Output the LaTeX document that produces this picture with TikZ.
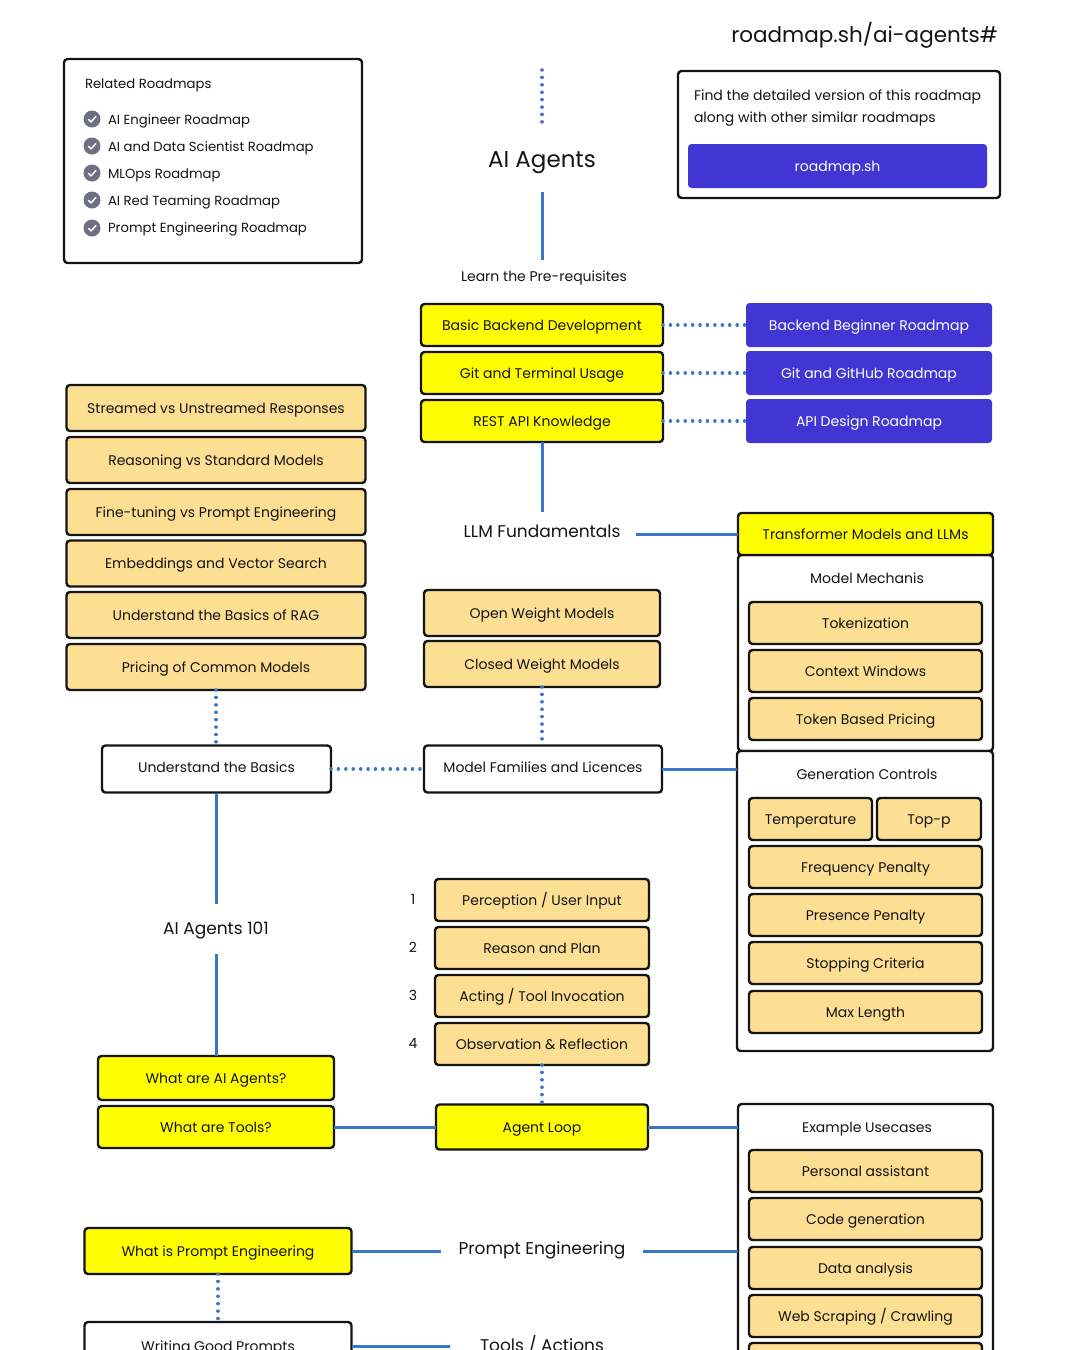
\documentclass[tikz,border=0pt]{standalone}
\usepackage{fontspec}
\setmainfont{Poppins}
\definecolor{linkblue}{HTML}{3A76C8}
\definecolor{btnblue}{HTML}{4136D3}
\definecolor{peach}{HTML}{FDDF93}
\definecolor{markyellow}{HTML}{FFFF00}
\definecolor{checkgray}{HTML}{6D7080}
\definecolor{inkblack}{HTML}{141414}
\tikzset{
    boxbase/.style={draw=inkblack, line width=2.4, rounded corners=3.5, outer sep=0, inner sep=0, text=inkblack, text height=10, text depth=0, font=\fontsize{14}{17}\selectfont},
    yellowbox/.style={boxbase, fill=markyellow},
    peachbox/.style={boxbase, fill=peach},
    whitebox/.style={boxbase, fill=white},
    bluebox/.style={rounded corners=3.5, fill=btnblue, text=white, outer sep=0, inner sep=0, text height=10, text depth=0, font=\fontsize{14}{17}\selectfont},
    panel/.style={boxbase, fill=white},
    plain/.style={inner sep=0, outer sep=0, text=inkblack, text height=10, text depth=0, font=\fontsize{14}{17}\selectfont},
    listtext/.style={plain, text height=11.5, font=\fontsize{13.2}{16}\selectfont},
    heading/.style={plain, text height=12, font=\fontsize{17}{21}\selectfont},
    bigheading/.style={plain, text height=14, font=\fontsize{23}{28}\selectfont},
    checkicon/.style={circle, fill=checkgray, minimum size=17, inner sep=0, outer sep=0,
        path picture={\draw[white, line width=1.5, line cap=round, line join=round]
            ([shift={(-3.6,0.3)}]path picture bounding box.center) -- ++(2.6,2.6) -- ++(4.8,-5.2);}},
    bluelink/.style={draw=linkblue, line width=3},
    dotlink/.style={draw=linkblue, line width=3.5, line cap=round, dash pattern=on 0.01 off 7.4},
}
\begin{document}
\begin{tikzpicture}[x=1pt, y=-1pt]
        \useasboundingbox (0, 0) rectangle (1080, 1350);
        \clip (0, 0) rectangle (1080, 1350);

        \node[bigheading, anchor=east, text height=15, font=\fontsize{21.5}{26}\selectfont] (sitetitle) at (998, 35) {roadmap.sh/ai-agents\#};

        \node[panel, minimum width=298, minimum height=204] (related) at (213, 161) {};
        \node[listtext, anchor=west, text height=10] (relatedtitle) at (85, 83) {Related Roadmaps};
        \node[checkicon] (check1) at (92, 119) {};
        \node[checkicon] (check2) at (92, 146) {};
        \node[checkicon] (check3) at (92, 173) {};
        \node[checkicon] (check4) at (92, 200) {};
        \node[checkicon] (check5) at (92, 228) {};
        \node[listtext, anchor=west] (rel1) at (108, 119) {AI Engineer Roadmap};
        \node[listtext, anchor=west] (rel2) at (108, 146) {AI and Data Scientist Roadmap};
        \node[listtext, anchor=west] (rel3) at (108, 173) {MLOps Roadmap};
        \node[listtext, anchor=west] (rel4) at (108, 200) {AI Red Teaming Roadmap};
        \node[listtext, anchor=west] (rel5) at (108, 227) {Prompt Engineering Roadmap};

        \node[panel, minimum width=322, minimum height=127] (findbox) at (839, 134.5) {};
        \node[plain, anchor=west] (find1) at (694, 95) {Find the detailed version of this roadmap};
        \node[plain, anchor=west] (find2) at (694, 117) {along with other similar roadmaps};
        \node[bluebox, minimum width=299, minimum height=44] (sitebtn) at (837.5, 166) {roadmap.sh};

        \coordinate (aitop) at (542, 70);
        \node[bigheading, minimum width=120, minimum height=64] (aititle) at (542, 160) {AI Agents};
        \node[plain, minimum height=32] (prereq) at (544, 276) {Learn the Pre-requisites};

        \node[yellowbox, minimum width=242, minimum height=42] (backend) at (542, 325) {Basic Backend Development};
        \node[yellowbox, minimum width=242, minimum height=42] (gitterm) at (542, 373) {Git and Terminal Usage};
        \node[yellowbox, minimum width=242, minimum height=42] (restapi) at (542, 421) {REST API Knowledge};
        \node[bluebox, minimum width=246, minimum height=44] (backendmap) at (869, 325) {Backend Beginner Roadmap};
        \node[bluebox, minimum width=246, minimum height=44] (gitmap) at (869, 373) {Git and GitHub Roadmap};
        \node[bluebox, minimum width=246, minimum height=44] (apimap) at (869, 421) {API Design Roadmap};

        \node[peachbox, minimum width=299, minimum height=46] (streamed) at (216, 408) {Streamed vs Unstreamed Responses};
        \node[peachbox, minimum width=299, minimum height=46] (reasoning) at (216, 460) {Reasoning vs Standard Models};
        \node[peachbox, minimum width=299, minimum height=46] (finetune) at (216, 512) {Fine-tuning vs Prompt Engineering};
        \node[peachbox, minimum width=299, minimum height=46] (embeddings) at (216, 563.5) {Embeddings and Vector Search};
        \node[peachbox, minimum width=299, minimum height=46] (ragbasics) at (216, 615) {Understand the Basics of RAG};
        \node[peachbox, minimum width=299, minimum height=46] (pricing) at (216, 667) {Pricing of Common Models};

        \node[heading, minimum width=188, minimum height=38] (llm) at (542, 531) {LLM Fundamentals};
        \node[panel, minimum width=255, minimum height=196] (mechanis) at (865.5, 653) {};
        \node[yellowbox, minimum width=255, minimum height=42] (transformer) at (865.5, 534) {Transformer Models and LLMs};
        \node[plain] (mechanistitle) at (867, 578) {Model Mechanis};
        \node[peachbox, minimum width=233, minimum height=42] (tokenization) at (865.5, 623) {Tokenization};
        \node[peachbox, minimum width=233, minimum height=42] (context) at (865.5, 671) {Context Windows};
        \node[peachbox, minimum width=233, minimum height=42] (tokenprice) at (865.5, 719) {Token Based Pricing};

        \node[panel, minimum width=256, minimum height=300] (gencontrols) at (865, 901) {};
        \node[plain] (gentitle) at (867, 774) {Generation Controls};
        \node[peachbox, minimum width=123, minimum height=42] (temperature) at (810.5, 819) {Temperature};
        \node[peachbox, minimum width=104, minimum height=42] (topp) at (929, 819) {Top-p};
        \node[peachbox, minimum width=233, minimum height=42] (frequency) at (865.5, 867) {Frequency Penalty};
        \node[peachbox, minimum width=233, minimum height=42] (presence) at (865.5, 915) {Presence Penalty};
        \node[peachbox, minimum width=233, minimum height=42] (stopping) at (865.5, 963) {Stopping Criteria};
        \node[peachbox, minimum width=233, minimum height=42] (maxlength) at (865.5, 1012) {Max Length};

        \node[peachbox, minimum width=236, minimum height=46] (openweight) at (542, 613) {Open Weight Models};
        \node[peachbox, minimum width=236, minimum height=46] (closedweight) at (542, 664) {Closed Weight Models};
        \node[whitebox, text depth=4, minimum width=238, minimum height=47] (families) at (543, 769) {Model Families and Licences};
        \node[whitebox, text depth=4, minimum width=229, minimum height=47] (basics) at (216.5, 769) {Understand the Basics};

        \node[heading, text height=10, minimum width=110, minimum height=50] (agents101) at (216, 929) {AI Agents 101};
        \node[yellowbox, minimum width=236, minimum height=44] (whatagents) at (216, 1078) {What are AI Agents?};
        \node[yellowbox, minimum width=236, minimum height=42] (whattools) at (216, 1127) {What are Tools?};

        \node[plain] (num1) at (413, 899) {1};
        \node[plain] (num2) at (413, 947) {2};
        \node[plain] (num3) at (413, 995) {3};
        \node[plain] (num4) at (413, 1043) {4};
        \node[peachbox, minimum width=214, minimum height=42] (perception) at (542, 900) {Perception / User Input};
        \node[peachbox, minimum width=214, minimum height=42] (reason) at (542, 948) {Reason and Plan};
        \node[peachbox, minimum width=214, minimum height=42] (acting) at (542, 996) {Acting / Tool Invocation};
        \node[peachbox, minimum width=214, minimum height=42] (observe) at (542, 1044) {Observation \& Reflection};
        \node[yellowbox, minimum width=212, minimum height=45] (agentloop) at (542, 1127) {Agent Loop};

        \node[panel, minimum width=255, minimum height=346] (usecases) at (865.5, 1277) {};
        \node[plain] (usecasetitle) at (867, 1127) {Example Usecases};
        \node[peachbox, minimum width=233, minimum height=42] (personal) at (865.5, 1171) {Personal assistant};
        \node[peachbox, minimum width=233, minimum height=42] (codegen) at (865.5, 1219) {Code generation};
        \node[peachbox, minimum width=233, minimum height=42] (dataan) at (865.5, 1268) {Data analysis};
        \node[peachbox, minimum width=233, minimum height=42] (webscrape) at (865.5, 1316) {Web Scraping / Crawling};
        \node[peachbox, minimum width=233, minimum height=42] (nextcase) at (865.5, 1364) {};

        \node[yellowbox, minimum width=267, minimum height=46] (whatprompt) at (218, 1251) {What is Prompt Engineering};
        \node[whitebox, minimum width=267, minimum height=48] (goodprompts) at (218, 1346) {Writing Good Prompts};
        \node[heading, minimum width=202, minimum height=30] (promptheading) at (542, 1248) {Prompt Engineering};
        \node[heading, minimum width=184, minimum height=30] (toolsheading) at (542, 1345) {Tools / Actions};

        \draw[dotlink] (aitop) -- (aititle.north);
        \draw[bluelink] (aititle.south) -- (aititle.south |- prereq.north);
        \draw[dotlink] (backend.east) -- (backendmap.west);
        \draw[dotlink] (gitterm.east) -- (gitmap.west);
        \draw[dotlink] (restapi.east) -- (apimap.west);
        \draw[bluelink] (restapi.south) -- (restapi.south |- llm.north);
        \draw[bluelink] (llm.east |- transformer.west) -- (transformer.west);
        \draw[dotlink] (closedweight.south) -- (closedweight.south |- families.north);
        \draw[dotlink] (pricing.south) -- (pricing.south |- basics.north);
        \draw[dotlink] (basics.east) -- (families.west);
        \draw[bluelink] (families.east) -- (families.east -| gencontrols.west);
        \draw[bluelink] (agents101.north |- basics.south) -- (agents101.north);
        \draw[bluelink] (agents101.south) -- (agents101.south |- whatagents.north);
        \draw[dotlink] (observe.south) -- (observe.south |- agentloop.north);
        \draw[bluelink] (whattools.east) -- (agentloop.west);
        \draw[bluelink] (agentloop.east) -- (agentloop.east -| usecases.west);
        \draw[bluelink] (whatprompt.east) -- (whatprompt.east -| promptheading.west);
        \draw[bluelink] (whatprompt.east -| promptheading.east) -- (whatprompt.east -| usecases.west);
        \draw[dotlink] (whatprompt.south) -- (goodprompts.north);
        \draw[bluelink] (goodprompts.east) -- (goodprompts.east -| toolsheading.west);
    \end{tikzpicture}
\end{document}
